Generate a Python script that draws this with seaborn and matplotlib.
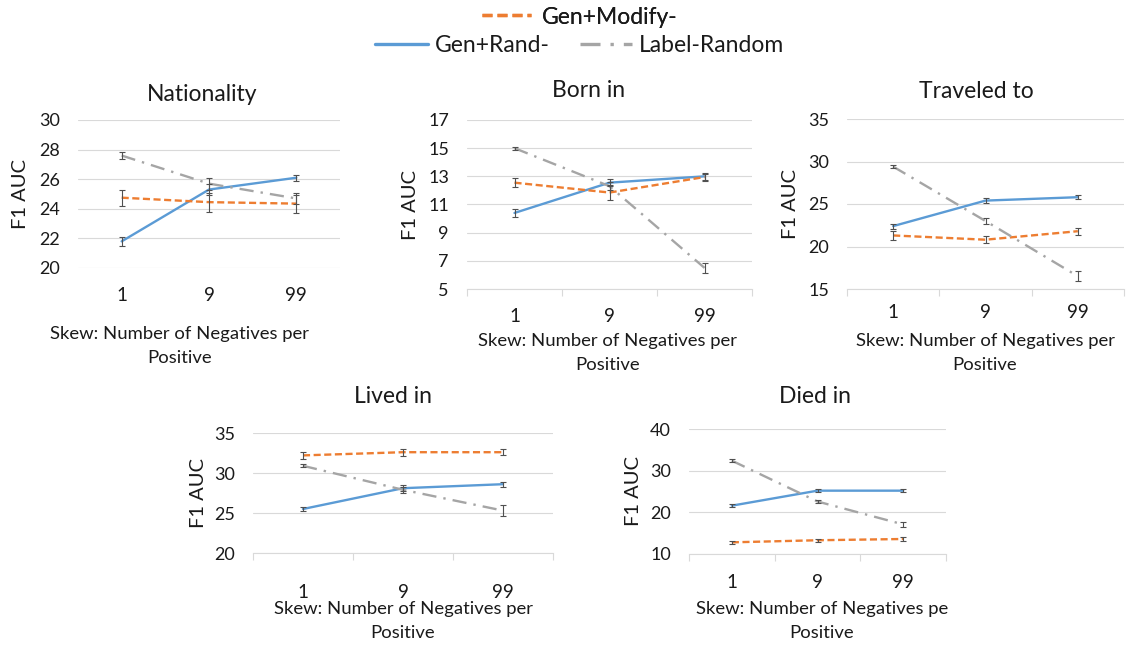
import matplotlib
matplotlib.use("Agg")
import matplotlib.pyplot as plt
from matplotlib.lines import Line2D
import seaborn as sns
import pandas as pd
import numpy as np

# data
skews = ["1", "9", "99"]
titles = ["Nationality", "Born in", "Traveled to", "Lived in", "Died in"]
series = ["Gen+Rand-", "Gen+Modify-", "Label-Random"]

gen_rand = [[21.8, 25.3, 26.1], [10.4, 12.55, 13.0], [22.4, 25.4, 25.8], [25.5, 28.1, 28.6], [21.6, 25.2, 25.2]]
gen_modify = [[24.75, 24.45, 24.35], [12.55, 11.85, 12.95], [21.3, 20.8, 21.8], [32.2, 32.6, 32.6], [12.8, 13.3, 13.6]]
label_random = [[27.6, 25.7, 24.7], [15.0, 12.3, 6.5], [29.4, 23.0, 16.5], [30.9, 27.9, 25.3], [32.4, 22.6, 17.1]]

gen_rand_err = [[0.3, 0.35, 0.2], [0.3, 0.25, 0.25], [0.3, 0.3, 0.25], [0.3, 0.4, 0.3], [0.3, 0.3, 0.3]]
gen_modify_err = [[0.55, 0.65, 0.6], [0.3, 0.5, 0.25], [0.5, 0.4, 0.4], [0.45, 0.45, 0.4], [0.4, 0.4, 0.4]]
label_random_err = [[0.25, 0.4, 0.35], [0.1, 0.3, 0.35], [0.15, 0.3, 0.6], [0.2, 0.4, 0.7], [0.3, 0.4, 0.5]]

y_ranges = [(20, 30, 2), (5, 17, 2), (15, 35, 5), (20, 35, 5), (10, 40, 10)]
xlabels = ["Skew: Number of Negatives per\nPositive"] * 4 + ["Skew: Number of Negatives pe\nPositive"]

# layout (figure pixels, 1127x647)
W, H = 1127, 647
boxes = [(78, 120, 340, 268), (467, 120, 752, 289), (847, 119, 1124, 289),
         (253, 433, 553, 553), (689, 429, 946, 554)]
title_cx = [202, 589, 976, 393, 815]
title_pad = [13.5, 16.5, 15, 21.5, 19]
ylabel_cx = [20, 410, 790, 198, 633]
xlabel_pos = [(180, 326), (608, 333), (985, 333), (403, 601), (822, 601)]
xtick_pad = [14, 13.5, 11, 22, 14.5]
axis_ticks = [False, True, True, True, True]

colors = {"Gen+Rand-": "#5B9BD5", "Gen+Modify-": "#ED7D31", "Label-Random": "#A5A5A5"}
dashes = {"Gen+Rand-": "", "Gen+Modify-": (3, 1.5), "Label-Random": (6, 3, 1, 3)}
text_color = "#1a1a1a"
grid_color = "#D9D9D9"

sns.set_theme(style="white")
plt.rcParams['font.family'] = ['Lato', 'DejaVu Sans']
plt.rcParams['text.color'] = text_color

fig = plt.figure(figsize=(W / 100, H / 100), dpi=100)

for i, title in enumerate(titles):
    x0, y0, x1, y1 = boxes[i]
    ax = fig.add_axes([x0 / W, 1 - y1 / H, (x1 - x0) / W, (y1 - y0) / H])
    values = [gen_rand[i], gen_modify[i], label_random[i]]
    errs = [gen_rand_err[i], gen_modify_err[i], label_random_err[i]]
    df = pd.DataFrame({
        "skew": skews * 3,
        "series": np.repeat(series, 3),
        "auc": sum(values, []),
        "err": sum(errs, []),
    })
    sns.lineplot(data=df, x="skew", y="auc", hue="series", style="series",
                 palette=colors, dashes=dashes, linewidth=1.7, ax=ax,
                 legend=False, errorbar=None, sort=False)
    for s in series:
        sub = df[df["series"] == s]
        ax.errorbar(np.arange(3), sub["auc"], yerr=sub["err"], fmt="none",
                    ecolor="#505050", elinewidth=0.8, capsize=2, capthick=0.8, zorder=3)

    lo, hi, step = y_ranges[i]
    ax.set_ylim(lo, hi)
    ax.set_xlim(-0.5, 2.5)
    ax.set_yticks(np.arange(lo, hi + 0.1, step))
    ax.yaxis.grid(True, color=grid_color, linewidth=0.8)
    ax.set_axisbelow(True)
    for sp in ax.spines.values():
        sp.set_visible(False)
    if axis_ticks[i]:
        ax.spines["bottom"].set_visible(True)
        ax.spines["bottom"].set_color(grid_color)
        ax.spines["bottom"].set_linewidth(0.8)
        ax.set_xticks([-0.5, 0.5, 1.5, 2.5], minor=True)
        ax.tick_params(axis="x", which="minor", length=5, width=0.8, color=grid_color, bottom=True)
    ax.tick_params(axis="x", which="major", length=0, pad=xtick_pad[i], labelsize=13.5, labelcolor=text_color)
    ax.tick_params(axis="y", length=0, pad=13, labelsize=13, labelcolor=text_color)

    ax.set_title(title, fontsize=16.5, pad=title_pad[i], color=text_color,
                 x=(title_cx[i] - x0) / (x1 - x0))
    ax.set_ylabel("F1 AUC", fontsize=14.5, color=text_color)
    ax.yaxis.set_label_coords((ylabel_cx[i] + 9 - x0) / (x1 - x0), 0.5)
    ax.set_xlabel(xlabels[i], fontsize=13.3, color=text_color, linespacing=1.65)
    lx, ly = xlabel_pos[i]
    ax.xaxis.set_label_coords((lx - x0) / (x1 - x0), (y1 - ly) / (y1 - y0))

# legend split over two rows like the reference
h_mod = Line2D([], [], color=colors["Gen+Modify-"], lw=2.4, dashes=(3, 1.5))
h_rand = Line2D([], [], color=colors["Gen+Rand-"], lw=2.4)
h_lab = Line2D([], [], color=colors["Label-Random"], lw=2.4, dashes=(6, 3, 1, 3))
leg1 = fig.legend([h_mod], ["Gen+Modify-"], loc="center", bbox_to_anchor=(580 / W, 1 - 17 / H),
                  frameon=False, fontsize=16.5, handlelength=2.1, handletextpad=0.5)
fig.add_artist(leg1)
fig.legend([h_rand, h_lab], ["Gen+Rand-", "Label-Random"], loc="center", ncol=2,
           bbox_to_anchor=(580 / W, 1 - 46 / H), frameon=False, fontsize=16.5,
           handlelength=2.3, handletextpad=0.3, columnspacing=1.3)

fig.savefig("out.png", dpi=100)
